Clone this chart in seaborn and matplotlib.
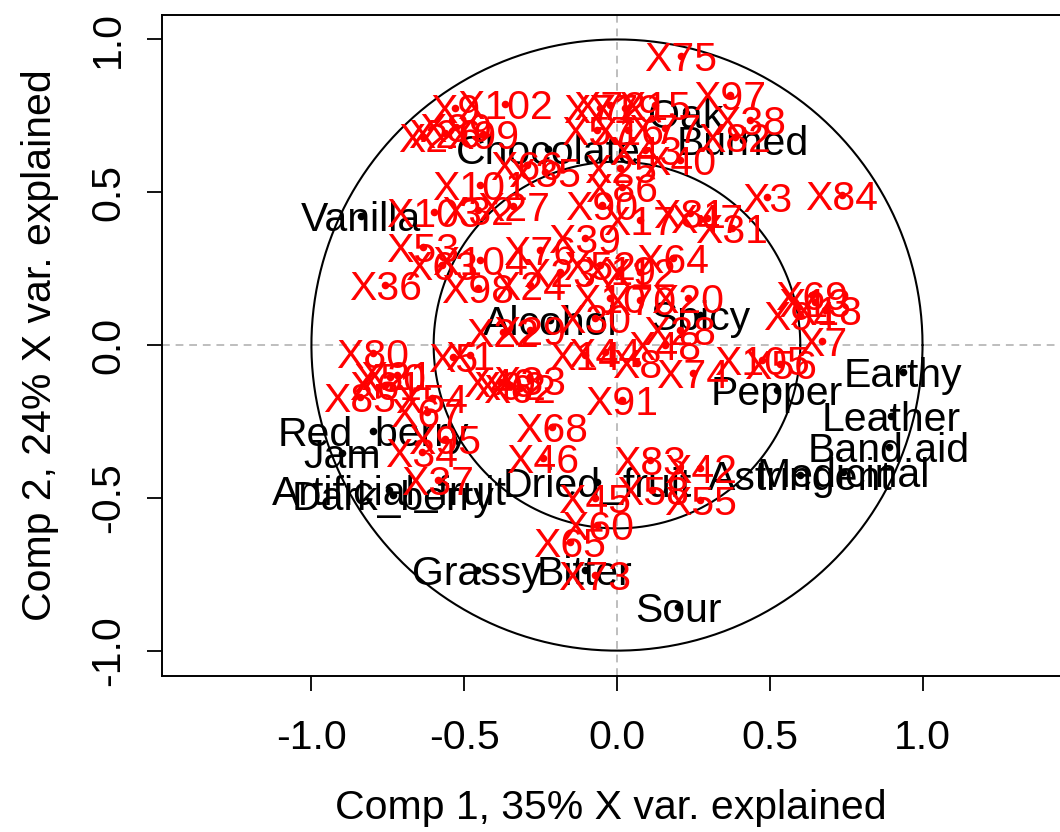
import numpy as np
import pandas as pd
import matplotlib
matplotlib.use("Agg")
import matplotlib.pyplot as plt
import seaborn as sns

# Correlation loadings of the sensory attributes (X loadings)
attr_names = ["Vanilla", "Chocolate", "Oak", "Burned", "Alcohol", "Spicy", "Pepper",
              "Earthy", "Leather", "Band.aid", "Astringent", "Medicinal", "Dried_fruit",
              "Red_berry", "Jam", "Artificial_fruit", "Dark_berry", "Grassy", "Bitter", "Sour"]
attr_comp1 = [-0.838, -0.226, 0.226, 0.412, -0.219, 0.272, 0.524,
              0.936, 0.897, 0.890, 0.599, 0.740, -0.065,
              -0.799, -0.900, -0.746, -0.733, -0.458, -0.105, 0.200]
attr_comp2 = [0.422, 0.642, 0.760, 0.671, 0.082, 0.098, -0.147,
              -0.088, -0.232, -0.334, -0.426, -0.416, -0.448,
              -0.282, -0.354, -0.475, -0.491, -0.737, -0.737, -0.858]

# Correlation loadings of the samples
samp_names = ["X75", "X97", "X38", "X82", "X102", "X2", "X26", "X89", "X99",
              "X101", "X103", "X27", "X32", "X53", "X104", "X63", "X36", "X98",
              "X76", "X39", "X64", "X12", "X20", "X24", "X23", "X52", "X19",
              "X30", "X10", "X70", "X66", "X35", "X25", "X40", "X86", "X90",
              "X17", "X81", "X47", "X31", "X3", "X84", "X69", "X13", "X18",
              "X94", "X7", "X105", "X56", "X74", "X8", "X91", "X68", "X46",
              "X83", "X42", "X45", "X58", "X55", "X60", "X65", "X73", "X37",
              "X34", "X95", "X67", "X54", "X85", "X80", "X21", "X50", "X61",
              "X5", "X22", "X29", "X1", "X14", "X44", "X62", "X92", "X33",
              "X49", "X48", "X28", "X72", "X79", "X15", "X71", "X57", "X16",
              "X77", "X43", "X9"]
samp_comp1 = [0.209, 0.370, 0.435, 0.386, -0.367, -0.635, -0.563, -0.527, -0.440,
              -0.448, -0.599, -0.340, -0.455, -0.635, -0.448, -0.573, -0.759, -0.455,
              -0.252, -0.105, 0.183, 0.075, 0.232, -0.285, -0.187, -0.056, 0.010,
              -0.072, -0.023, 0.075, -0.295, -0.236, 0.010, 0.206, 0.016, -0.049,
              0.075, 0.239, 0.295, 0.376, 0.491, 0.736, 0.638, 0.648, 0.681,
              0.599, 0.671, 0.475, 0.534, 0.249, 0.065, 0.016, -0.213, -0.242,
              0.108, 0.272, -0.072, 0.115, 0.272, -0.065, -0.154, -0.072, -0.586,
              -0.638, -0.563, -0.622, -0.606, -0.841, -0.799, -0.720, -0.743, -0.759,
              -0.537, -0.373, -0.285, -0.481, -0.105, -0.039, -0.318, -0.350, -0.285,
              -0.383, 0.157, 0.206, -0.023, 0.026, 0.124, -0.056, -0.065, 0.036,
              0.157, 0.092, -0.530]
samp_comp2 = [0.946, 0.818, 0.736, 0.681, 0.789, 0.681, 0.694, 0.714, 0.690,
              0.524, 0.435, 0.455, 0.442, 0.321, 0.278, 0.262, 0.196, 0.187,
              0.311, 0.350, 0.285, 0.239, 0.154, 0.196, 0.239, 0.262, 0.245,
              0.088, 0.154, 0.147, 0.589, 0.566, 0.579, 0.606, 0.517, 0.458,
              0.409, 0.432, 0.416, 0.383, 0.484, 0.491, 0.164, 0.141, 0.115,
              0.098, 0.013, -0.049, -0.062, -0.092, -0.059, -0.180, -0.268, -0.370,
              -0.376, -0.403, -0.501, -0.475, -0.507, -0.589, -0.645, -0.753, -0.442,
              -0.350, -0.308, -0.219, -0.173, -0.170, -0.026, -0.098, -0.105, -0.131,
              -0.039, 0.043, 0.049, -0.033, -0.033, -0.023, -0.141, -0.131, -0.115,
              -0.121, 0.000, 0.049, 0.786, 0.776, 0.786, 0.776, 0.704, 0.704,
              0.710, 0.638, 0.776]

x_ticks = [-1.0, -0.5, 0.0, 0.5, 1.0]
y_ticks = [-1.0, -0.5, 0.0, 0.5, 1.0]
x_title = "Comp 1, 35% X var. explained"
y_title = "Comp 2, 24% X var. explained"
circle_radii = [1.0, 0.6]

attrs = pd.DataFrame({"name": attr_names, "c1": attr_comp1, "c2": attr_comp2})
samples = pd.DataFrame({"name": samp_names, "c1": samp_comp1, "c2": samp_comp2})

sns.set_theme(style="white")
plt.rcParams["font.family"] = ["Liberation Sans", "DejaVu Sans"]
plt.rcParams["text.color"] = "black"
plt.rcParams["axes.labelcolor"] = "black"
plt.rcParams["xtick.color"] = "black"
plt.rcParams["ytick.color"] = "black"
FS = 29.5

fig = plt.figure(figsize=(10.6, 8.32), dpi=100)
ax = fig.add_axes([162 / 1060, (832 - 676) / 832, 902 / 1060, 661 / 832])

# reference lines and circles
ax.axhline(0, color="#bebebe", lw=1.4, ls=(0, (4, 3)), zorder=0)
ax.axvline(0, color="#bebebe", lw=1.4, ls=(0, (4, 3)), zorder=0)
theta = np.linspace(0, 2 * np.pi, 400)
for r in circle_radii:
    ax.plot(r * np.cos(theta), r * np.sin(theta), color="black", lw=1.5, zorder=1)

# attributes in black
sns.scatterplot(data=attrs, x="c1", y="c2", color="black", s=30, linewidth=0,
                ax=ax, zorder=3)
for _, row in attrs.iterrows():
    ax.text(row.c1, row.c2, row["name"], color="black", fontsize=FS,
            ha="center", va="center_baseline", zorder=2)

# samples in red
sns.scatterplot(data=samples, x="c1", y="c2", color="red", s=30, linewidth=0,
                ax=ax, zorder=5)
for _, row in samples.iterrows():
    ax.text(row.c1, row.c2, row["name"], color="red", fontsize=FS,
            ha="center", va="center_baseline", zorder=4)

ax.set_xlim(-1.489, 1.463)
ax.set_ylim(-1.083, 1.080)
ax.set_xticks(x_ticks)
ax.set_yticks(y_ticks)
ax.set_xticklabels([f"{v:.1f}" for v in x_ticks], fontsize=FS)
ax.set_yticklabels([f"{v:.1f}" for v in y_ticks], fontsize=FS, rotation=90, va="center")
ax.tick_params(axis="both", direction="out", length=11, width=1.3, color="black",
               labelcolor="black", bottom=True, left=True)
ax.tick_params(axis="x", pad=20)
ax.tick_params(axis="y", pad=14)

for sp in ax.spines.values():
    sp.set_color("black")
    sp.set_linewidth(1.4)

ax.set_xlabel(x_title, fontsize=FS, color="black")
ax.set_ylabel(y_title, fontsize=FS, color="black")
ax.xaxis.set_label_coords((611 - 162) / 902, (676 - 808) / 661)
ax.xaxis.label.set_va("center")
ax.yaxis.set_label_coords((40 - 162) / 902, 0.5)
ax.yaxis.label.set_va("center")

fig.savefig("out.png", dpi=100)
